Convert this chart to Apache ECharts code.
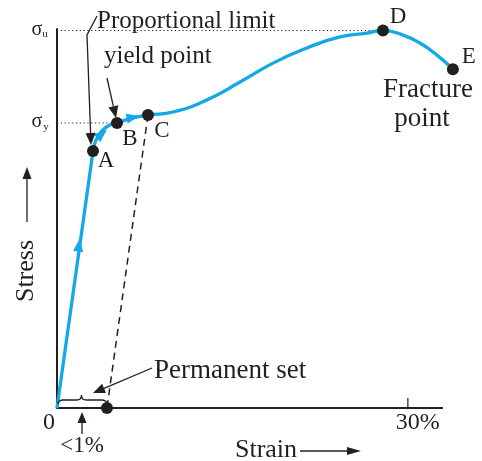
<!DOCTYPE html>
<html><head><meta charset="utf-8">
<script src="https://cdn.jsdelivr.net/npm/echarts@6/dist/echarts.min.js"></script>
<style>html,body{margin:0;padding:0;background:#fff}#c{width:482px;height:461px}</style>
</head><body><div id="c"></div>
<script>
// ---- data (strain in %, stress in arbitrary units, 0..100) ----
const elasticStrain = [0, 3.08];
const elasticStress = [0, 67.8];
const curveStrain = [3.08, 3.33, 3.76, 4.36, 5.13, 6.41, 7.78, 9.92, 12.82, 15.65, 18.47, 21.37, 24.19, 26.50, 27.87, 29.58, 31.03, 32.49, 33.85];
const curveStress = [67.8, 70.7, 72.8, 74.4, 75.2, 76.5, 77.3, 78.1, 81.3, 86.0, 91.0, 95.0, 97.9, 98.9, 99.6, 98.4, 96.3, 93.1, 89.4];
const pointNames = ['A', 'B', 'C', 'D', 'E'];
const pointStrain = [3.08, 5.13, 7.78, 27.87, 33.85];
const pointStress = [67.8, 75.2, 77.3, 99.6, 89.4];
const permanentSetStrain = 4.27;
const sigmaU = 99.6;
const sigmaY = 75.2;
const strainAxisEnd = 33;
const arrowStrain = [1.88, 3.85, 6.50];
const arrowStress = [43.0, 72.3, 76.7];
const arrowAngle = [-8, -50, -78];
const xTickValues = [0, 30];
const xTickLabels = ['0', '30%'];

const FONT = "'Liberation Serif', 'Times New Roman', serif";
const BLUE = '#13A8E6';
const INK = '#231f20';
const labelOffsets = [[13, 10], [13, 16], [14, 16], [15, -14], [16, -12]];

const chart = echarts.init(document.getElementById('c'), null, {renderer: 'canvas'});

const zip = (xs, ys) => xs.map((x, i) => [x, ys[i]]);

chart.setOption({
  animation: false,
  grid: {left: 57, top: 29, right: 21.5, bottom: 53},
  xAxis: {
    type: 'value', min: 0, max: 34.5,
    axisLine: {show: false},
    axisTick: {show: false}, axisLabel: {show: false}, splitLine: {show: false}
  },
  yAxis: {
    type: 'value', min: 0, max: 100,
    axisLine: {show: true, lineStyle: {color: INK, width: 2}},
    axisTick: {show: false}, axisLabel: {show: false}, splitLine: {show: false}
  },
  series: [
    {type: 'line', data: [[0, 0], [strainAxisEnd, 0]], symbol: 'none', z: 1, clip: false,
     lineStyle: {color: INK, width: 2}},
    {type: 'line', data: [[0, sigmaU], [pointStrain[3], sigmaU]], symbol: 'none', z: 1,
     lineStyle: {color: INK, width: 1.1, type: [1.2, 2.6]}},
    {type: 'line', data: [[0, sigmaY], [pointStrain[1], sigmaY]], symbol: 'none', z: 1,
     lineStyle: {color: INK, width: 1.1, type: [1.2, 2.6]}},
    {type: 'line', data: [[pointStrain[2], pointStress[2]], [permanentSetStrain, 0]], symbol: 'none', z: 1,
     lineStyle: {color: INK, width: 1.5, type: [7, 5]}},
    {type: 'line', data: zip(elasticStrain, elasticStress), symbol: 'none', z: 2, clip: false,
     lineStyle: {color: BLUE, width: 3.3}},
    {type: 'line', data: zip(curveStrain, curveStress), symbol: 'none', smooth: 0.5, z: 2, clip: false,
     lineStyle: {color: BLUE, width: 3.3}},
    {type: 'scatter', z: 3, clip: false,
     data: arrowStrain.map((x, i) => ({value: [x, arrowStress[i]], symbolRotate: arrowAngle[i]})),
     symbol: 'triangle', symbolSize: [10, 13], itemStyle: {color: BLUE, opacity: 1}},
    {type: 'scatter', z: 4, clip: false, symbolSize: 12, itemStyle: {color: INK, opacity: 1},
     data: pointNames.map((n, i) => ({
       name: n, value: [pointStrain[i], pointStress[i]],
       label: {show: true, position: 'inside', offset: labelOffsets[i], formatter: n,
               fontFamily: FONT, fontSize: 23, color: INK}
     })).concat([{name: '', value: [permanentSetStrain, 0]}])}
  ]
});

function px(x, y) { return chart.convertToPixel({gridIndex: 0}, [x, y]); }
function text(t, x, y, size, opts) {
  return Object.assign({type: 'text', z: 10, style: Object.assign({
    text: t, x: x, y: y, font: size + 'px ' + FONT, fill: INK,
    textAlign: 'center', textVerticalAlign: 'middle'}, (opts && opts.style) || {})},
    opts && opts.el || {});
}
function arrow(points, headLen, headW) {
  headLen = headLen || 11; headW = headW || 9;
  const n = points.length;
  const tip = points[n - 1], prev = points[n - 2];
  const dx = tip[0] - prev[0], dy = tip[1] - prev[1];
  const L = Math.hypot(dx, dy), ux = dx / L, uy = dy / L;
  const bx = tip[0] - ux * headLen, by = tip[1] - uy * headLen;
  const line = points.slice(0, n - 1).concat([[bx, by]]);
  return [
    {type: 'polyline', z: 10, shape: {points: line}, style: {stroke: INK, lineWidth: 1.3, fill: null}},
    {type: 'polygon', z: 10, shape: {points: [tip, [bx - uy * headW / 2, by + ux * headW / 2], [bx + uy * headW / 2, by - ux * headW / 2]]},
     style: {fill: INK, stroke: null}}
  ];
}
function quad(p0, c, p1, out) {
  for (let i = 0; i <= 8; i++) {
    const t = i / 8, a = (1 - t) * (1 - t), b = 2 * (1 - t) * t, d = t * t;
    out.push([a * p0[0] + b * c[0] + d * p1[0], a * p0[1] + b * c[1] + d * p1[1]]);
  }
}

const O = px(0, 0);
const A = px(pointStrain[0], pointStress[0]);
const B = px(pointStrain[1], pointStress[1]);
const PS = px(permanentSetStrain, 0);
const T30 = px(xTickValues[1], 0);
const yU = px(0, sigmaU)[1], yY = px(0, sigmaY)[1];

const g = [];
// tick at 30%
g.push({type: 'line', z: 10, shape: {x1: T30[0], y1: T30[1], x2: T30[0], y2: T30[1] - 10}, style: {stroke: INK, lineWidth: 1.2}});
// tick labels
g.push(text(xTickLabels[0], O[0] - 8, O[1] + 15, 24));
g.push(text(xTickLabels[1], T30[0] + 10, T30[1] + 15, 24));
// sigma labels
g.push(text('σ', O[0] - 20, yU - 1, 20));
g.push(text('u', O[0] - 12, yU + 4, 11));
g.push(text('σ', O[0] - 20, yY - 1, 20));
g.push(text('y', O[0] - 11, yY + 4, 11));
// annotations
g.push(text('Proportional limit', 97, 21, 25, {style: {textAlign: 'left'}}));
g.push(...arrow([[97, 16], [87, 35], [A[0] - 2, A[1] - 6]], 12, 10));
g.push(text('yield point', 104, 56, 25, {style: {textAlign: 'left'}}));
g.push(...arrow([[107, 78], [B[0] - 1, B[1] - 5]], 12, 10));
g.push(text('Fracture', 428, 90, 27));
g.push(text('point', 422, 119, 27));
g.push(text('Permanent set', 154, 371, 27, {style: {textAlign: 'left'}}));
g.push(...arrow([[152, 368], [93, 393]], 12, 10));
// brace
const bx0 = O[0] + 1, bx1 = PS[0], bm = (bx0 + bx1) / 2 - 1, by0 = O[1] - 8;
const br = [];
quad([bx0, by0 + 4], [bx0, by0], [bx0 + 6, by0], br);
quad([bm - 5, by0], [bm, by0], [bm, by0 - 5], br);
quad([bm, by0 - 5], [bm, by0], [bm + 5, by0], br);
quad([bx1 - 6, by0], [bx1, by0], [bx1, by0 + 4], br);
g.push({type: 'polyline', z: 10, shape: {points: br}, style: {stroke: INK, lineWidth: 1.4, fill: null}});
// <1%
g.push(...arrow([[82, 434], [82, 412]], 11, 9));
g.push(text('<1%', 82, 446, 23));
// axis titles
g.push(text('Strain', 266, 450, 26));
g.push(...arrow([[300, 451], [361, 451]], 14, 8));
g.push(text('Stress', 0, 0, 26, {el: {x: 26, y: 271, rotation: Math.PI / 2}}));
g.push(...arrow([[27, 222], [27, 167]], 12, 9));

chart.setOption({graphic: g});
</script>
</body></html>
